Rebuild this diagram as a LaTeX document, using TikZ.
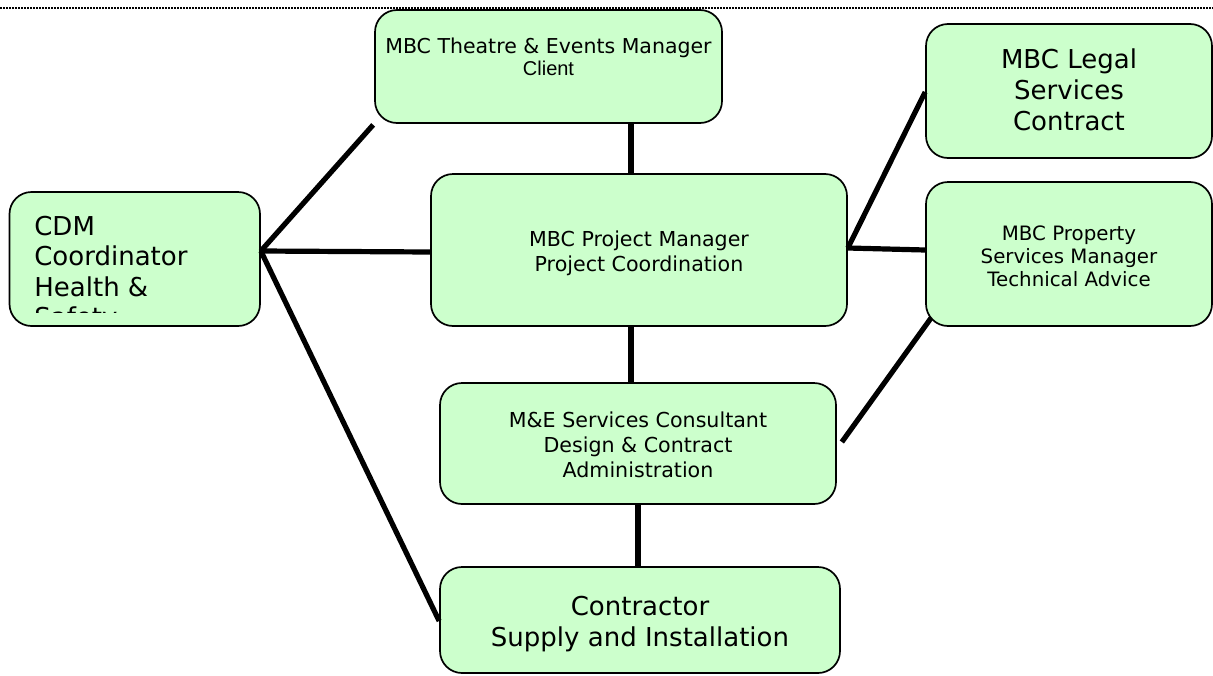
\documentclass[tikz,border=0pt]{standalone}
\usepackage{fontspec}
\setmainfont{DejaVu Sans}
\newfontfamily\vfont{DejaVu Sans}
\newfontfamily\afont{Liberation Sans}
\definecolor{boxgreen}{RGB}{204,255,204}
\newcommand{\smallfnt}{\vfont\fontsize{20.6}{25}\selectfont}
\newcommand{\bigfnt}{\vfont\fontsize{26}{31}\selectfont}
% #1 height, #2 width, #3 extra top space, #4 text
\newcommand{\btext}[4]{\parbox[c][#1][c]{#2}{\centering\vspace*{#3}#4\par}}
\begin{document}
\begin{tikzpicture}[x=1pt,y=-1pt,
  box/.style={draw=black, fill=boxgreen, rounded corners=22pt, line width=1.7pt, inner sep=0pt, align=center},
  conn/.style={line width=5.2pt, black}]
\useasboundingbox (0,0) rectangle (1213,675);
\draw[line width=1.2pt, dash pattern=on 1.5pt off 1.5pt] (0,8) coordinate (dl) -- (1213,8) coordinate (dr);

\node[box, minimum width=347pt, minimum height=113pt] (theatre) at (548.5,66.5)
  {\parbox[c][110pt][t]{340pt}{\centering\vspace*{26pt}{\vfont\fontsize{20.5}{24}\selectfont MBC Theatre \& Events Manager\\[-1pt]\afont\fontsize{20}{23}\selectfont Client\par}}};
\node[box, minimum width=286pt, minimum height=134pt] (legal) at (1069,91)
  {\btext{130pt}{280pt}{-2pt}{\bigfnt MBC Legal\\Services\\Contract}};
\node[box, minimum width=250.5pt, minimum height=134pt] (cdm) at (134.75,259) {};
\begin{scope}
  \clip (cdm.north west) rectangle ([yshift=14pt]cdm.south east);
  \node[anchor=north west, align=left, inner sep=0pt, font=\vfont\fontsize{26}{30.5}\selectfont] (cdmtext)
    at ([xshift=25.5pt,yshift=-24.5pt]cdm.north west) {CDM\\Coordinator\\Health \&\\Safety};
\end{scope}
\node[box, minimum width=416pt, minimum height=152pt] (pm) at (639,250)
  {\btext{148pt}{400pt}{7pt}{\smallfnt MBC Project Manager\\Project Coordination}};
\node[box, minimum width=286pt, minimum height=144pt] (property) at (1069,254)
  {\btext{140pt}{280pt}{4pt}{\vfont\fontsize{19.8}{23}\selectfont MBC Property\\Services Manager\\Technical Advice}};
\node[box, minimum width=396pt, minimum height=121pt] (me) at (638,443.5)
  {\btext{117pt}{390pt}{2pt}{\smallfnt M\&E Services Consultant\\Design \& Contract\\Administration}};
\node[box, minimum width=400pt, minimum height=106pt] (contractor) at (640,620)
  {\btext{102pt}{390pt}{9pt}{\bigfnt Contractor\\Supply and Installation}};

% connectors
\coordinate (hubL) at ([yshift=8pt]cdm.east);
\coordinate (hubR) at ([yshift=2pt]pm.east);
\draw[conn] (hubL) -- ([xshift=-1pt,yshift=-1pt]theatre.south west);
\draw[conn] (hubL) -- ([yshift=-2pt]pm.west);
\draw[conn] (hubL) -- ([yshift=-1pt]contractor.west);
\draw[conn] ([xshift=82.5pt]theatre.south) -- ([xshift=-8pt]pm.north);
\draw[conn] (hubR) -- ([yshift=-1pt]legal.west);
\draw[conn] (hubR) -- ([yshift=4pt]property.west);
\draw[conn] ([xshift=6pt,yshift=9pt]property.south west) -- ([xshift=5pt,yshift=1.5pt]me.east);
\draw[conn] ([xshift=-8pt]pm.south) -- ([xshift=-7pt]me.north);
\draw[conn] (me.south) -- ([xshift=-2pt]contractor.north);
\end{tikzpicture}
\end{document}
